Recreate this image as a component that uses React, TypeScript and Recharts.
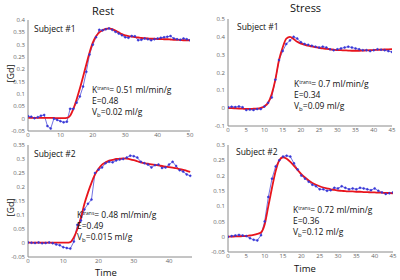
import React from 'react';
import { ComposedChart, Line, XAxis, YAxis } from 'recharts';

// sampling step of the time grid (s)
const STEP = 1;

// Rest, subject #1 (t = 0..50)
const rest1Fit = [
  0.003, 0.003, 0.003, 0.003, 0.003, 0.003, 0.003, 0.003, 0.003, 0.002, 0.002,
  0.002, 0.003, 0.012, 0.04, 0.078, 0.122, 0.17, 0.22, 0.268, 0.308, 0.334,
  0.35, 0.358, 0.364, 0.366, 0.363, 0.357, 0.35, 0.343, 0.338, 0.335, 0.333,
  0.331, 0.329, 0.327, 0.326, 0.325, 0.324, 0.324, 0.323, 0.323, 0.322, 0.322,
  0.321, 0.32, 0.32, 0.319, 0.318, 0.318, 0.317,
];
const rest1Obs = [
  0.01, 0.008, 0.002, 0.006, 0.012, 0.015, -0.03, -0.04, 0.0, -0.005, -0.01,
  -0.015, -0.012, 0.04, 0.04, 0.065, 0.09, 0.13, 0.19, 0.26, 0.3, 0.33, 0.36,
  0.358, 0.362, 0.366, 0.36, 0.352, 0.345, 0.338, 0.33, 0.328, 0.335, 0.334,
  0.318, 0.32, 0.325, 0.322, 0.318, 0.322, 0.325, 0.328, 0.33, 0.332, 0.335,
  0.325, 0.322, 0.32, 0.325, 0.322, 0.318,
];

// Stress, subject #1 (t = 0..45)
const stress1Fit = [
  0.0, 0.0, -0.001, -0.002, -0.003, -0.004, -0.004, -0.003, -0.002, 0.002,
  0.01, 0.03, 0.08, 0.16, 0.27, 0.34, 0.39, 0.4, 0.388, 0.372, 0.362, 0.356,
  0.35, 0.346, 0.342, 0.338, 0.335, 0.332, 0.33, 0.328, 0.326, 0.325, 0.324,
  0.323, 0.322, 0.322, 0.322, 0.323, 0.324, 0.325, 0.326, 0.327, 0.328, 0.329,
  0.33, 0.331,
];
const stress1Obs = [
  0.005, 0.008, 0.006, 0.01, 0.005, -0.01, -0.008, -0.01, -0.005, -0.005, 0.01,
  0.03, 0.06, 0.16, 0.27, 0.32, 0.36, 0.38, 0.4, 0.39, 0.37, 0.36, 0.355, 0.35,
  0.345, 0.34, 0.345, 0.34, 0.33, 0.325, 0.33, 0.335, 0.34, 0.345, 0.34,
  0.335, 0.33, 0.325, 0.325, 0.32, 0.325, 0.33, 0.328, 0.325, 0.32, 0.315,
];

// Rest, subject #2 (t = 0..46)
const rest2Fit = [
  0.001, 0.001, 0.001, 0.001, 0.001, 0.001, 0.001, 0.001, 0.001, 0.001, 0.001,
  0.001, 0.003, 0.02, 0.05, 0.09, 0.14, 0.18, 0.215, 0.245, 0.265, 0.28,
  0.288, 0.294, 0.297, 0.3, 0.301, 0.302, 0.301, 0.299, 0.296, 0.292, 0.288,
  0.285, 0.283, 0.281, 0.279, 0.277, 0.275, 0.273, 0.271, 0.269, 0.267, 0.264,
  0.261, 0.258, 0.254,
];
const rest2Obs = [
  0.002, 0.001, 0.0, 0.002, -0.001, 0.0, 0.002, -0.001, -0.005, -0.008,
  -0.015, -0.018, -0.02, 0.005, 0.065, 0.08, 0.12, 0.14, 0.155, 0.25, 0.262,
  0.27, 0.285, 0.29, 0.288, 0.295, 0.298, 0.3, 0.305, 0.312, 0.31, 0.305,
  0.29, 0.285, 0.28, 0.27, 0.278, 0.28, 0.268, 0.27, 0.28, 0.29, 0.275, 0.26,
  0.255, 0.245, 0.24,
];

// Stress, subject #2 (t = 0..45)
const stress2Fit = [
  0.0, 0.0, 0.001, 0.001, 0.002, 0.002, 0.004, 0.006, 0.009, 0.014, 0.04, 0.1,
  0.16, 0.215, 0.25, 0.26, 0.255, 0.245, 0.232, 0.218, 0.205, 0.194, 0.184,
  0.176, 0.17, 0.165, 0.161, 0.158, 0.155, 0.153, 0.151, 0.15, 0.149, 0.148,
  0.148, 0.147, 0.147, 0.146, 0.146, 0.145, 0.145, 0.144, 0.144, 0.143, 0.143,
  0.142,
];
const stress2Obs = [
  0.0, 0.002, 0.004, 0.006, 0.004, 0.002, -0.005, -0.01, -0.012, 0.005, 0.05,
  0.13, 0.19, 0.23, 0.25, 0.262, 0.265, 0.262, 0.24, 0.22, 0.2, 0.19, 0.18,
  0.17, 0.165, 0.155, 0.155, 0.15, 0.152, 0.16, 0.158, 0.165, 0.16, 0.155,
  0.158, 0.155, 0.16, 0.158, 0.155, 0.152, 0.158, 0.15, 0.145, 0.14, 0.142,
  0.145,
];

// axis ticks
const rest1XTicks = [0, 10, 20, 30, 40, 50];
const rest1YTicks = [-0.05, 0, 0.05, 0.1, 0.15, 0.2, 0.25, 0.3, 0.35, 0.4];
const stress1XTicks = [0, 5, 10, 15, 20, 25, 30, 35, 40, 45];
const stress1YTicks = [-0.1, 0, 0.1, 0.2, 0.3, 0.4, 0.5];
const rest2XTicks = [0, 10, 20, 30, 40];
const rest2YTicks = [-0.05, 0, 0.05, 0.1, 0.15, 0.2, 0.25, 0.3, 0.35];
const stress2XTicks = [0, 5, 10, 15, 20, 25, 30, 35, 40, 45];
const stress2YTicks = [-0.05, 0, 0.05, 0.1, 0.15, 0.2, 0.25, 0.3];

const FONT = '"Open Sans", sans-serif';
const RED = '#e8141c';
const BLUE = '#3535d6';
const AXIS = '#8a8a8a';
const Y_AXIS_W = 26;
const X_AXIS_H = 12;
const PAD = 4;

interface Box {
  x0: number;
  y0: number;
  x1: number;
  y1: number;
}

interface PanelProps {
  box: Box;
  fit: number[];
  obs: number[];
  xDomain: [number, number];
  xTicks: number[];
  yDomain: [number, number];
  yTicks: number[];
}

/** One Matlab-style box plot: blue measured points + red model fit. */
function Panel({ box, fit, obs, xDomain, xTicks, yDomain, yTicks }: PanelProps) {
  const data = fit.map((value, i) => ({ t: i * STEP, fit: value, obs: obs[i] }));
  const width = box.x1 - box.x0 + Y_AXIS_W + PAD;
  const height = box.y1 - box.y0 + X_AXIS_H + PAD;
  const tick = { fontSize: 6, fill: '#666', fontFamily: FONT };

  return (
    <div style={{ position: 'absolute', left: box.x0 - Y_AXIS_W, top: box.y0 - PAD }}>
      <ComposedChart
        width={width}
        height={height}
        data={data}
        margin={{ top: PAD, right: PAD, bottom: 0, left: 0 }}
      >
        <XAxis
          dataKey="t"
          type="number"
          domain={xDomain}
          ticks={xTicks}
          allowDataOverflow
          height={X_AXIS_H}
          tick={tick}
          tickLine={false}
          tickSize={2}
          tickMargin={0}
          axisLine={{ stroke: AXIS }}
          interval={0}
        />
        <XAxis xAxisId="top" orientation="top" dataKey="t" type="number" domain={xDomain} height={0} tick={false} tickLine={false} axisLine={{ stroke: AXIS }} />
        <YAxis
          type="number"
          domain={yDomain}
          ticks={yTicks}
          allowDataOverflow
          width={Y_AXIS_W}
          tick={tick}
          tickLine={false}
          tickSize={2}
          tickMargin={1}
          axisLine={{ stroke: AXIS }}
          interval={0}
        />
        <YAxis yAxisId="right" orientation="right" domain={yDomain} width={0} tick={false} tickLine={false} axisLine={{ stroke: AXIS }} />
        <Line
          type="linear"
          dataKey="obs"
          stroke={BLUE}
          strokeWidth={0.7}
          dot={{ r: 1, fill: BLUE, stroke: BLUE, strokeWidth: 0.5 }}
          isAnimationActive={false}
        />
        <Line
          type="monotone"
          dataKey="fit"
          stroke={RED}
          strokeWidth={1.8}
          dot={false}
          isAnimationActive={false}
        />
      </ComposedChart>
    </div>
  );
}

function Params({ left, top, k, e, vb }: { left: number; top: number; k: string; e: string; vb: string }) {
  const line: React.CSSProperties = { height: 11, lineHeight: '11px', whiteSpace: 'nowrap' };
  return (
    <div style={{ position: 'absolute', left, top, fontSize: 8.5, fontFamily: FONT, color: '#111' }}>
      <div style={line}>
        K<span style={{ fontSize: 5, position: 'relative', top: -3 }}>trans</span>= {k} ml/min/g
      </div>
      <div style={line}>E={e}</div>
      <div style={line}>
        V<span style={{ fontSize: 6, position: 'relative', top: 2 }}>b</span>={vb} ml/g
      </div>
    </div>
  );
}

function Label({ left, top, text, size = 8.5 }: { left: number; top: number; text: string; size?: number }) {
  return (
    <div style={{ position: 'absolute', left, top, fontSize: size, lineHeight: `${size + 2}px`, fontFamily: FONT, color: '#111', whiteSpace: 'nowrap' }}>
      {text}
    </div>
  );
}

function YLabel({ left, top }: { left: number; top: number }) {
  return (
    <div
      style={{
        position: 'absolute',
        left,
        top,
        fontSize: 9,
        fontFamily: FONT,
        color: '#111',
        transform: 'rotate(-90deg)',
        transformOrigin: 'center',
        whiteSpace: 'nowrap',
      }}
    >
      [Gd]
    </div>
  );
}

export default function App() {
  return (
    <div style={{ position: 'absolute', left: 0, top: 0, width: 400, height: 280, background: '#fff', overflow: 'hidden' }}>
      <Label left={92} top={4} text="Rest" size={11} />
      <Label left={290} top={1} text="Stress" size={11} />

      <Panel box={{ x0: 28, y0: 20, x1: 190, y1: 131 }} fit={rest1Fit} obs={rest1Obs} xDomain={[0, 50]} xTicks={rest1XTicks} yDomain={[-0.05, 0.4]} yTicks={rest1YTicks} />
      <Panel box={{ x0: 228, y0: 19, x1: 392, y1: 126 }} fit={stress1Fit} obs={stress1Obs} xDomain={[0, 45]} xTicks={stress1XTicks} yDomain={[-0.1, 0.5]} yTicks={stress1YTicks} />
      <Panel box={{ x0: 28, y0: 145, x1: 192, y1: 257 }} fit={rest2Fit} obs={rest2Obs} xDomain={[0, 46.5]} xTicks={rest2XTicks} yDomain={[-0.05, 0.35]} yTicks={rest2YTicks} />
      <Panel box={{ x0: 228, y0: 145, x1: 393, y1: 252 }} fit={stress2Fit} obs={stress2Obs} xDomain={[0, 45]} xTicks={stress2XTicks} yDomain={[-0.05, 0.3]} yTicks={stress2YTicks} />

      <Label left={34} top={24} text="Subject #1" />
      <Label left={237} top={22} text="Subject #1" />
      <Label left={34} top={149} text="Subject #2" />
      <Label left={236} top={147} text="Subject #2" />

      <Params left={92} top={84} k="0.51" e="0.48" vb="0.02" />
      <Params left={294} top={78} k="0.7" e="0.34" vb="0.09" />
      <Params left={77} top={209} k="0.48" e="0.49" vb="0.015" />
      <Params left={293} top={204} k="0.72" e="0.36" vb="0.12" />

      <YLabel left={2} top={67} />
      <YLabel left={2} top={201} />
      <Label left={95} top={267} text="Time" size={9.5} />
      <Label left={294} top={263} text="Time" size={9.5} />
    </div>
  );
}
